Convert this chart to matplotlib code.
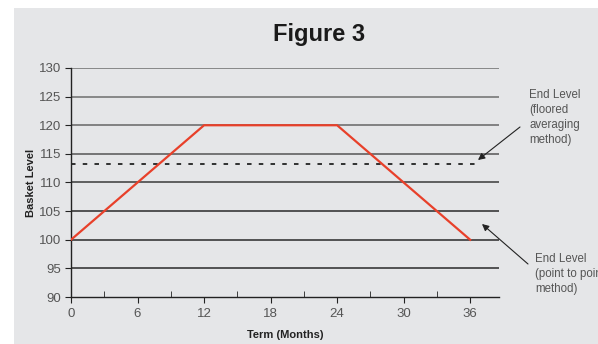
import matplotlib.pyplot as plt
from matplotlib.patches import Rectangle
import numpy as np

plt.rcParams['font.family'] = ['Liberation Sans', 'DejaVu Sans']

# basket path over the term
term = [0, 12, 24, 36]
basket = [100, 120, 120, 100]
floored_avg = 113.3
avg_span = [0, 36.6]
grid_levels = [95, 100, 105, 110, 115, 120, 125, 130]
grid_colors = ['#2a2a2a', '#2a2a2a', '#2a2a2a', '#3a3a3a', '#555555', '#666666', '#6e6e6e', '#6e6e6e']

bg = '#e5e6e8'
txt = '#555555'

fig = plt.figure(figsize=(5.98, 3.44), dpi=100)
fig.patch.set_facecolor('white')
fig.patches.append(Rectangle((14 / 598, 0), 1, 1 - 8 / 344, transform=fig.transFigure,
                             facecolor=bg, edgecolor='none', zorder=-1))

ax = fig.add_axes([71 / 598, 1 - 297 / 344, 428 / 598, 229 / 344])
ax.set_facecolor(bg)
ax.set_xlim(0, 38.6)
ax.set_ylim(90, 130)

for lvl, c in zip(grid_levels, grid_colors):
    ax.axhline(lvl, color=c, lw=1.1, zorder=1)

ax.plot(term, basket, color='#e8402a', lw=1.6, zorder=3)
ax.plot(avg_span, [floored_avg, floored_avg], color='#222222', lw=1.3,
        dashes=(2.5, 4), zorder=2)

for s in ['top', 'right']:
    ax.spines[s].set_visible(False)
for s in ['left', 'bottom']:
    ax.spines[s].set_color('#222222')
    ax.spines[s].set_linewidth(1)

ax.set_xticks(np.arange(0, 37, 6))
ax.set_xticks(np.arange(3, 37, 6), minor=True)
ax.set_yticks(np.arange(90, 131, 5))
ax.tick_params(axis='x', which='major', direction='out', length=4, colors='#222222',
               labelcolor=txt, labelsize=9.5, pad=4)
ax.tick_params(axis='x', which='minor', direction='in', length=4, colors='#222222')
ax.tick_params(axis='y', direction='out', length=4, colors='#222222',
               labelcolor=txt, labelsize=9.5, pad=3)

ax.set_xlabel('Term (Months)', fontsize=8, fontweight='bold', color='#222222', labelpad=7)
ax.set_ylabel('Basket Level', fontsize=8, fontweight='bold', color='#222222', labelpad=2)

fig.text(319 / 598, 1 - 35 / 344, 'Figure 3', ha='center', va='center',
         fontsize=17, fontweight='bold', color='#1a1a1a')

# callouts: text blocks with separate arrows
note_style = dict(ha='left', va='top', fontsize=8.3, color=txt, linespacing=1.35)
fig.text(529 / 598, 1 - 89 / 344, 'End Level\n(floored\naveraging\nmethod)', **note_style)
fig.text(535 / 598, 1 - 253 / 344, 'End Level\n(point to point\nmethod)', **note_style)

arrow = dict(arrowstyle='-|>', color='#222222', lw=0.8, shrinkA=0, shrinkB=0,
             mutation_scale=10)
ax.annotate('', xy=(478 / 598, 1 - 160 / 344), xycoords='figure fraction',
            xytext=(520 / 598, 1 - 127 / 344), textcoords='figure fraction',
            arrowprops=arrow, annotation_clip=False)
ax.annotate('', xy=(482 / 598, 1 - 224 / 344), xycoords='figure fraction',
            xytext=(528 / 598, 1 - 264 / 344), textcoords='figure fraction',
            arrowprops=arrow, annotation_clip=False)

fig.savefig('out.png', dpi=100, facecolor=fig.get_facecolor())
